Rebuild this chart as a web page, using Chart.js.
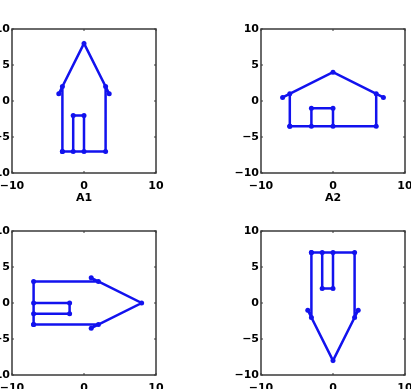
<!DOCTYPE html>
<html>
<head>
<meta charset="utf-8">
<script src="https://cdn.jsdelivr.net/npm/chart.js@4"></script>
<style>
    html, body { margin: 0; padding: 0; background: #fff; }
    #fig { position: absolute; left: 0; top: 0; width: 411px; height: 389px; overflow: hidden; }
    canvas { position: absolute; }
</style>
</head>
<body>
<div id="fig">
<canvas id="a1" width="209" height="204"></canvas>
<canvas id="a2" width="209" height="204"></canvas>
<canvas id="a3" width="209" height="204"></canvas>
<canvas id="a4" width="209" height="204"></canvas>
</div>
<script>
// house outlines, one x/y pair per panel
const a1X = [-3, -3, -3.5, 0, 3.5, 3, 3, -1.5, -1.5, 0, 0, -3];
const a1Y = [-7, 2, 1, 8, 1, 2, -7, -7, -2, -2, -7, -7];
const a2X = [-6, -6, -7, 0, 7, 6, 6, -3, -3, 0, 0, -6];
const a2Y = [-3.5, 1, 0.5, 4, 0.5, 1, -3.5, -3.5, -1, -1, -3.5, -3.5];
const a3X = [-7, 2, 1, 8, 1, 2, -7, -7, -2, -2, -7, -7];
const a3Y = [-3, -3, -3.5, 0, 3.5, 3, 3, -1.5, -1.5, 0, 0, -3];
const a4X = [-3, -3, -3.5, 0, 3.5, 3, 3, -1.5, -1.5, 0, 0, -3];
const a4Y = [7, -2, -1, -8, -1, -2, 7, 7, 2, 2, 7, 7];

const xTicks = [-10, 0, 10];
const yTicks = [-10, -5, 0, 5, 10];

const panels = [
    { id: 'a1', xs: a1X, ys: a1Y, label: 'A1', left: 12, top: 29 },
    { id: 'a2', xs: a2X, ys: a2Y, label: 'A2', left: 261, top: 29 },
    { id: 'a3', xs: a3X, ys: a3Y, label: '', left: 12, top: 231 },
    { id: 'a4', xs: a4X, ys: a4Y, label: '', left: 261, top: 231 }
];

const PAD_L = 50, PAD_T = 15, PAD_R = 15, PAD_B = 45;
const BLUE = 'rgb(18,18,238)';
const font = { family: 'DejaVu Sans', size: 11, weight: 'bold' };

function fmt(v) {
    return v < 0 ? '\u2212' + Math.abs(v) : String(v);
}

// box around the axes plus small inward ticks on all four sides
const boxPlugin = {
    id: 'box',
    afterDraw(chart) {
        const { ctx, chartArea: a, scales } = chart;
        ctx.save();
        ctx.strokeStyle = '#3a3a3a';
        ctx.lineWidth = 1;
        ctx.beginPath();
        xTicks.forEach(v => {
            const px = scales.x.getPixelForValue(v);
            ctx.moveTo(px, a.bottom); ctx.lineTo(px, a.bottom - 2);
            ctx.moveTo(px, a.top); ctx.lineTo(px, a.top + 2);
        });
        yTicks.forEach(v => {
            const py = scales.y.getPixelForValue(v);
            ctx.moveTo(a.left, py); ctx.lineTo(a.left + 2, py);
            ctx.moveTo(a.right, py); ctx.lineTo(a.right - 2, py);
        });
        ctx.stroke();
        ctx.lineWidth = 1.5;
        ctx.strokeRect(a.left, a.top, a.right - a.left, a.bottom - a.top);
        ctx.restore();
    }
};

panels.forEach(p => {
    const el = document.getElementById(p.id);
    el.style.left = (p.left - PAD_L) + 'px';
    el.style.top = (p.top - PAD_T) + 'px';

    new Chart(el.getContext('2d'), {
        type: 'scatter',
        data: {
            datasets: [{
                data: p.xs.map((x, i) => ({ x: x, y: p.ys[i] })),
                showLine: true,
                borderColor: BLUE,
                backgroundColor: BLUE,
                borderWidth: 2.5,
                pointRadius: 2.5,
                pointBorderWidth: 0
            }]
        },
        options: {
            responsive: false,
            animation: false,
            layout: { padding: { left: 0, top: PAD_T, right: PAD_R, bottom: 0 } },
            plugins: { legend: { display: false }, tooltip: { enabled: false } },
            scales: {
                x: {
                    type: 'linear', min: -10, max: 10,
                    grid: { display: false, drawTicks: false },
                    border: { display: false },
                    afterBuildTicks: s => { s.ticks = xTicks.map(v => ({ value: v })); },
                    afterFit: s => { s.height = PAD_B; s.paddingLeft = 0; s.paddingRight = 0; },
                    ticks: { color: '#000', font: font, padding: 7, maxRotation: 0, callback: fmt },
                    title: {
                        display: p.label !== '', text: p.label, color: '#000',
                        font: { family: 'DejaVu Sans', size: 11, weight: 'bold' },
                        padding: { top: 0, bottom: 13 }
                    }
                },
                y: {
                    type: 'linear', min: -10, max: 10,
                    grid: { display: false, drawTicks: false },
                    border: { display: false },
                    afterBuildTicks: s => { s.ticks = yTicks.map(v => ({ value: v })); },
                    afterFit: s => { s.width = PAD_L; s.paddingTop = 0; s.paddingBottom = 0; },
                    ticks: { color: '#000', font: font, padding: 2, callback: fmt }
                }
            }
        },
        plugins: [boxPlugin]
    });
});
</script>
</body>
</html>
